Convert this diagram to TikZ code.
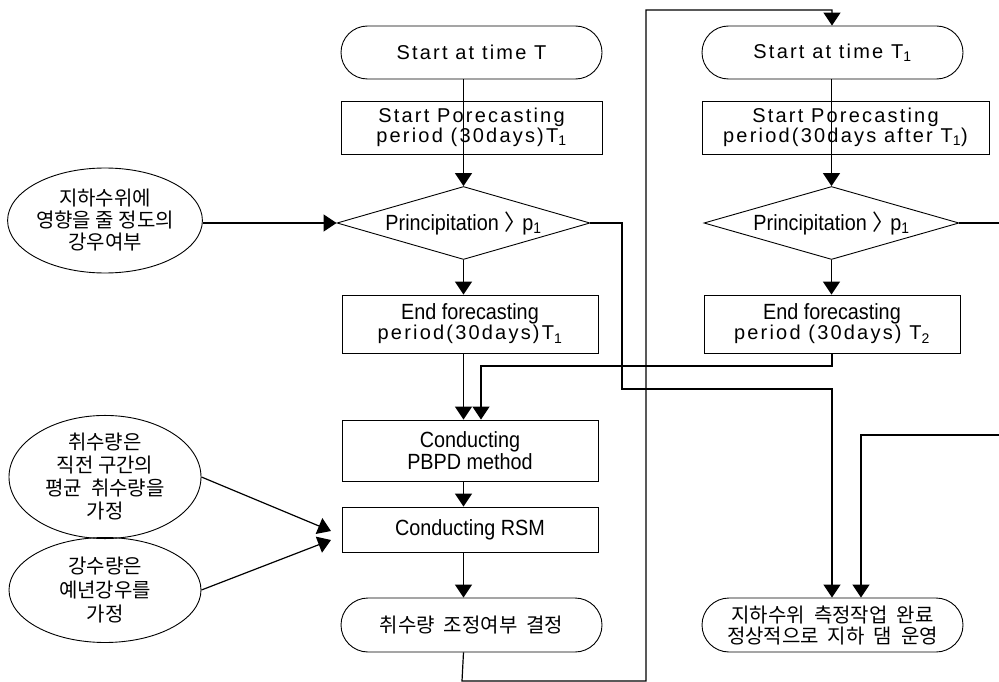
\documentclass[tikz,border=0pt]{standalone}
\usepackage{fontspec}
\setmainfont{Liberation Sans}
\newfontfamily\kr{Noto Sans CJK KR}
\newfontfamily\widesans[LetterSpace=11]{Liberation Sans}
\newfontfamily\narrowsans[FakeStretch=0.9]{Liberation Sans}
\usetikzlibrary{arrows.meta,
	shapes.geometric,
	shapes.misc}
\newcommand\wtxt{\widesans\fontsize{20}{20}\selectfont}
\newcommand\ntxt{\narrowsans\fontsize{22}{19}\selectfont}
\newcommand\ktxt{\kr\fontsize{20}{22}\selectfont}
\newcommand\ksp{\hspace{0.45em}}

\begin{document}
\begin{tikzpicture}[x=1pt,y=-1pt]
      \tikzstyle{every node}=[inner sep=0pt,line width=0.9pt,align=center]
      \tikzstyle{box}=[draw,rectangle]
      \tikzstyle{term}=[draw,rounded rectangle,minimum width=261pt]
      \tikzstyle{test}=[draw,diamond,aspect=3.5,minimum height=73pt,font=\ntxt]
      \tikzstyle{note}=[draw,ellipse,minimum width=192pt,minimum height=105pt,font=\ktxt]
      \tikzstyle{arr}=[-{Triangle[length=13pt,width=17pt]},line width=1.2pt]
      \tikzstyle{wire}=[line width=1.2pt]
      \useasboundingbox (0,0) rectangle (999,682);
      % left column
      \node[term,minimum height=53pt,font=\wtxt] (startA) at (471.5,52.5) {Start at time T};
      \node[box,minimum width=261pt,minimum height=53pt,font=\wtxt] (fsA) at (471.5,127.5) {Start Porecasting\\period (30days)T\textsubscript{1}};
      \node[test,minimum width=253pt] (dA) at (463.5,223) {Principitation {\kr 〉}\hspace{-4pt}p\textsubscript{1}};
      \node[box,minimum width=256pt,minimum height=58pt,font=\ntxt] (feA) at (470,324) {End forecasting\\{\wtxt period(30days)T\textsubscript{1}}};
      \node[box,minimum width=256pt,minimum height=61pt,font=\ntxt] (pbpd) at (470,450.5) {\fontsize{22}{24}\selectfont Conducting\\PBPD method};
      \node[box,minimum width=256pt,minimum height=45pt,font=\ntxt] (rsm) at (470,529.5) {Conducting RSM};
      \node[term,minimum height=54pt,font=\ktxt] (decA) at (471.5,625) {취수량\ksp 조정여부\ksp 결정};
      % right column
      \node[term,minimum height=53pt,font=\wtxt] (startB) at (832.5,52.5) {Start at time T\textsubscript{1}};
      \node[box,minimum width=287pt,minimum height=53pt,font=\wtxt] (fsB) at (845.5,127.5) {Start Porecasting\\period(30days after T\textsubscript{1})};
      \node[test,minimum width=255pt] (dB) at (831.5,223) {Principitation {\kr 〉}\hspace{-4pt}p\textsubscript{1}};
      \node[box,minimum width=256pt,minimum height=58pt,font=\ntxt] (feB) at (832,324) {End forecasting\\{\wtxt period (30days) T\textsubscript{2}}};
      \node[term,minimum height=54pt,font=\kr\fontsize{20}{21}\selectfont] (fin) at (832.5,625) {지하수위\ksp 측정작업\ksp 완료\\정상적으로\ksp 지하\ksp 댐\ksp 운영};
      % assumptions
      \node[note] (e1) at (105,220.5) {지하수위에\\영향을 줄 정도의\\강우여부};
      \node[note,font=\kr\fontsize{20}{23}\selectfont] (e2) at (105,477) {취수량은\\직전 구간의\\평균\ksp 취수량을\\가정};
      \node[note,font=\kr\fontsize{20}{24}\selectfont] (e3) at (105,590) {강수량은\\예년강우를\\가정};
      \coordinate (in1) at (331,531);
      \coordinate (in2) at (331,540);
      \coordinate (offR) at (999,223);
      \coordinate (backR) at (999,435);
      % flow
      \draw[arr] (dA.north |- startA.south) -- (dA.north |- fsA.south) -- (dA.north);
      \draw[arr] (dA.south) -- (dA.south |- feA.north);
      \draw[arr] (dA.south |- feA.south) -- (dA.south |- pbpd.north);
      \draw[arr] (dA.south |- pbpd.south) -- (dA.south |- rsm.north);
      \draw[arr] (dA.south |- rsm.south) -- (dA.south |- decA.north);
      \draw[arr] (e1.east |- dA.west) -- (dA.west);
      \draw[arr] (e2.east) -- (in1);
      \draw[arr] (e3.east) -- (in2);
      \draw[arr] (dA.east) -- (622,223) -- (622,389) -- (832,389) -- (fin.north -| 832,0);
      \draw[arr] (feB.south) -- (832,366) -- (481,366) -- (pbpd.north -| 481,0);
      \draw[arr] (dA.south |- decA.south) -- (462,681) -- (646,681) -- (646,10) -- (832,10) -- (startB.north -| 832,0);
      \draw[arr] (dB.north |- startB.south) -- (dB.north |- fsB.south) -- (dB.north);
      \draw[arr] (dB.south) -- (dB.south |- feB.north);
      \draw[wire] (dB.east) -- (offR);
      \draw[arr] (backR) -- (861,435) -- (fin.north -| 861,0);
\end{tikzpicture}
\end{document}
